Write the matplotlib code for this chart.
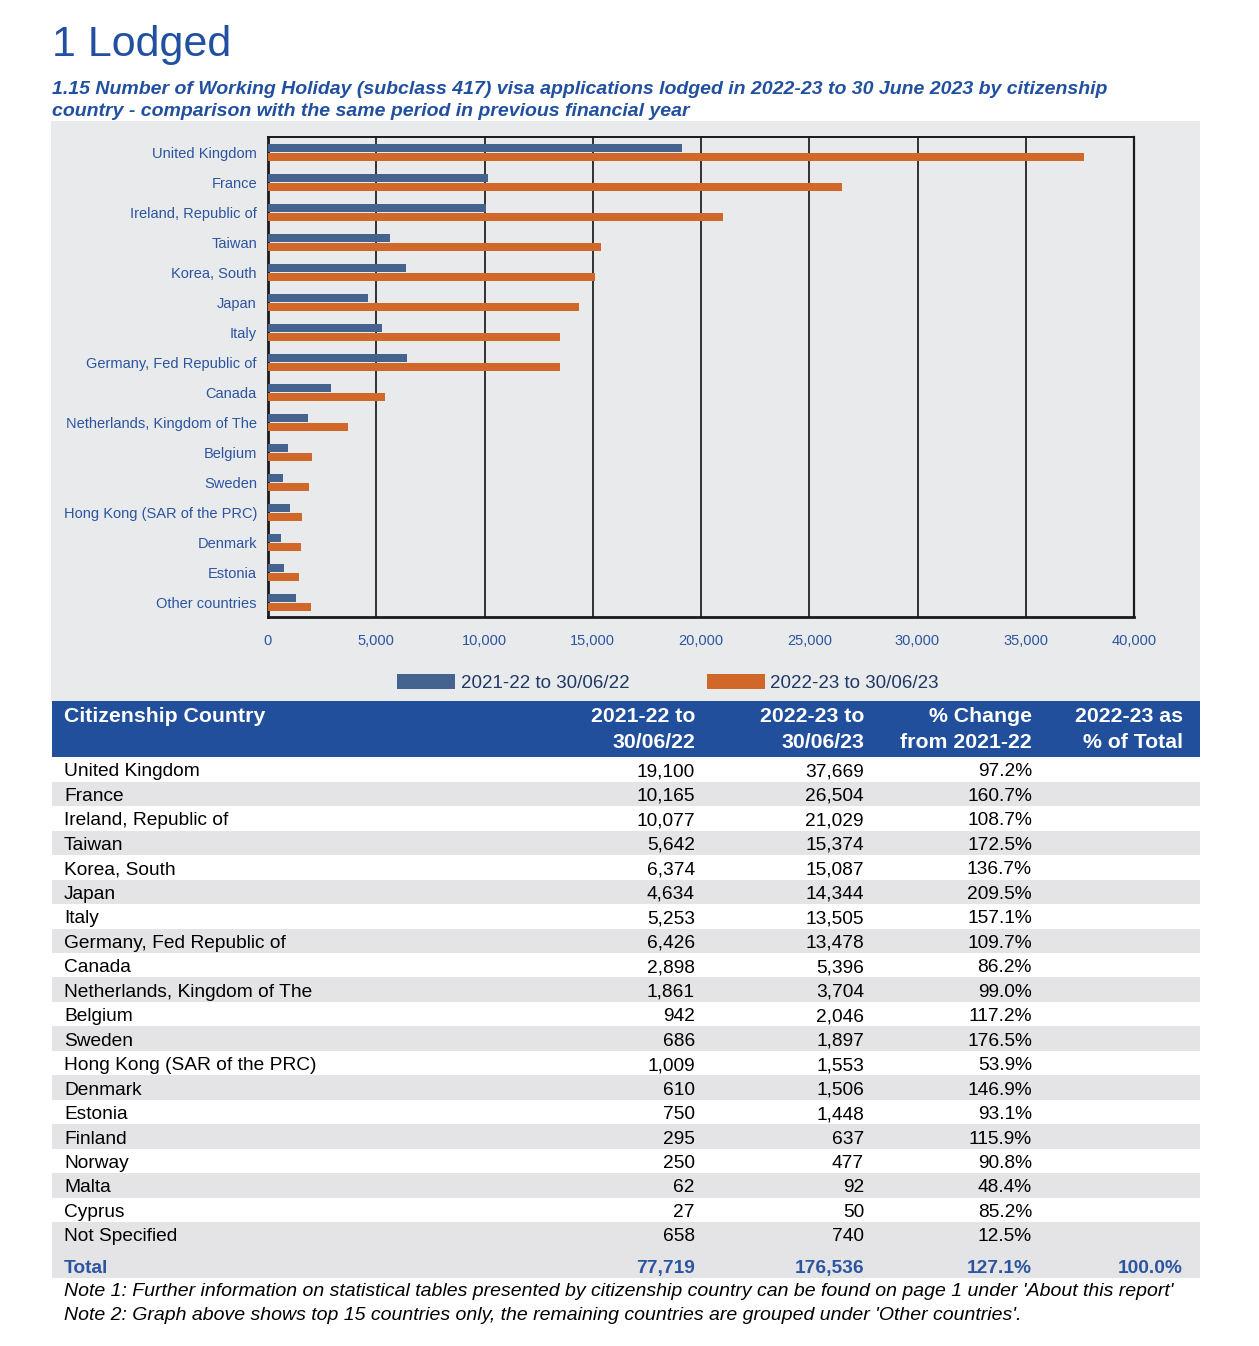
"""Working Holiday (subclass 417) visa applications lodged, by citizenship country."""

import matplotlib

matplotlib.use("Agg")
import matplotlib.pyplot as plt
from matplotlib.patches import Patch, Rectangle

plt.rcParams["font.family"] = ["Liberation Sans", "DejaVu Sans"]

W, H = 1259, 1346

# --- chart data (top 15 + other) ---
chart_countries = [
    "United Kingdom", "France", "Ireland, Republic of", "Taiwan", "Korea, South",
    "Japan", "Italy", "Germany, Fed Republic of", "Canada",
    "Netherlands, Kingdom of The", "Belgium", "Sweden", "Hong Kong (SAR of the PRC)",
    "Denmark", "Estonia", "Other countries",
]
chart_prev = [19100, 10165, 10077, 5642, 6374, 4634, 5253, 6426, 2898, 1861,
              942, 686, 1009, 610, 750, 1292]
chart_curr = [37669, 26504, 21029, 15374, 15087, 14344, 13505, 13478, 5396, 3704,
              2046, 1897, 1553, 1506, 1448, 1996]
series_labels = ["2021-22 to 30/06/22", "2022-23 to 30/06/23"]
x_ticks = [0, 5000, 10000, 15000, 20000, 25000, 30000, 35000, 40000]

# --- table data ---
table_countries = [
    "United Kingdom", "France", "Ireland, Republic of", "Taiwan", "Korea, South",
    "Japan", "Italy", "Germany, Fed Republic of", "Canada",
    "Netherlands, Kingdom of The", "Belgium", "Sweden", "Hong Kong (SAR of the PRC)",
    "Denmark", "Estonia", "Finland", "Norway", "Malta", "Cyprus", "Not Specified",
]
table_prev = [19100, 10165, 10077, 5642, 6374, 4634, 5253, 6426, 2898, 1861,
              942, 686, 1009, 610, 750, 295, 250, 62, 27, 658]
table_curr = [37669, 26504, 21029, 15374, 15087, 14344, 13505, 13478, 5396, 3704,
              2046, 1897, 1553, 1506, 1448, 637, 477, 92, 50, 740]
table_change = [97.2, 160.7, 108.7, 172.5, 136.7, 209.5, 157.1, 109.7, 86.2, 99.0,
                117.2, 176.5, 53.9, 146.9, 93.1, 115.9, 90.8, 48.4, 85.2, 12.5]
total_prev = 77719
total_curr = 176536
total_change = 127.1
total_share = 100.0
header_cols = ["2021-22 to\n30/06/22", "2022-23 to\n30/06/23",
               "% Change\nfrom 2021-22", "2022-23 as\n% of Total"]

BLUE_BAR = "#44648f"
ORANGE_BAR = "#d2672a"
TITLE_BLUE = "#2150a0"
TEXT_BLUE = "#2b55a0"
HEADER_BG = "#214f9b"
PANEL = "#e9eaec"
ROW_GRAY = "#e4e4e6"

fig = plt.figure(figsize=(W / 100, H / 100), dpi=100)
fig.patch.set_facecolor("white")

# background axes in pixel coordinates
bg = fig.add_axes([0, 0, 1, 1], zorder=0)
bg.set_xlim(0, W)
bg.set_ylim(H, 0)
bg.axis("off")

bg.text(52, 56, "1 Lodged", fontsize=31, color=TITLE_BLUE, va="baseline", ha="left")
bg.text(52, 94, "1.15 Number of Working Holiday (subclass 417) visa applications lodged in "
        "2022-23 to 30 June 2023 by citizenship", fontsize=14, fontweight="bold",
        fontstyle="italic", color=TITLE_BLUE, va="baseline")
bg.text(52, 116, "country - comparison with the same period in previous financial year",
        fontsize=14, fontweight="bold", fontstyle="italic", color=TITLE_BLUE, va="baseline")

bg.add_patch(Rectangle((51, 121), 1149, 580, facecolor=PANEL, edgecolor="none"))

# --- bar chart ---
ax = fig.add_axes([268 / W, 1 - 617 / H, (1134 - 268) / W, (617 - 137) / H], zorder=2)
ax.set_facecolor(PANEL)
ypos = list(range(len(chart_countries)))
ax.barh([y - 0.15 for y in ypos], chart_prev, height=0.27, color=BLUE_BAR, zorder=3)
ax.barh([y + 0.15 for y in ypos], chart_curr, height=0.27, color=ORANGE_BAR, zorder=3)
ax.set_ylim(15.48, -0.52)
ax.set_xlim(0, 40000)
ax.set_xticks(x_ticks)
ax.set_xticklabels([f"{v:,}" for v in x_ticks])
ax.set_yticks(ypos)
ax.set_yticklabels(chart_countries)
ax.tick_params(axis="both", length=0, labelsize=10.5, labelcolor=TEXT_BLUE)
ax.tick_params(axis="x", pad=12)
ax.tick_params(axis="y", pad=8)
ax.grid(axis="x", color="black", linewidth=1.1)
ax.set_axisbelow(True)
for side, lw in [("left", 2.0), ("bottom", 2.0), ("top", 1.4), ("right", 1.6)]:
    ax.spines[side].set_linewidth(lw)
    ax.spines[side].set_color("#1a1a1a")

handles = [Patch(facecolor=BLUE_BAR, label=series_labels[0]),
           Patch(facecolor=ORANGE_BAR, label=series_labels[1])]
ax.legend(handles=handles, loc="center", bbox_to_anchor=(668 / W, 1 - 683 / H),
          bbox_transform=fig.transFigure, ncol=2, frameon=False, fontsize=13.5,
          handlelength=3.1, handleheight=0.9, handletextpad=0.3, columnspacing=4.1,
          labelcolor="#1f3864")

# --- table ---
col_right = [695, 864, 1032, 1183]
bg.add_patch(Rectangle((52, 701), 1148, 56, facecolor=HEADER_BG, edgecolor="none"))
hdr = dict(fontsize=15.3, fontweight="bold", color="white", va="baseline")
bg.text(64, 722, "Citizenship Country", ha="left", **hdr)
for x, lab in zip(col_right, header_cols):
    top, bottom = lab.split("\n")
    bg.text(x, 722, top, ha="right", **hdr)
    bg.text(x, 748, bottom, ha="right", **hdr)

row_h = 24.47
y0 = 769.5
base = 7.0  # baseline offset from row centre
for i, name in enumerate(table_countries):
    yc = y0 + i * row_h
    if i % 2 == 1:
        bg.add_patch(Rectangle((52, yc - row_h / 2), 1148, row_h, facecolor=ROW_GRAY,
                               edgecolor="none"))
    yb = yc + base
    bg.text(64, yb, name, fontsize=13.8, va="baseline", ha="left")
    bg.text(col_right[0], yb, f"{table_prev[i]:,}", fontsize=13.8, va="baseline", ha="right")
    bg.text(col_right[1], yb, f"{table_curr[i]:,}", fontsize=13.8, va="baseline", ha="right")
    bg.text(col_right[2], yb, f"{table_change[i]:.1f}%", fontsize=13.8, va="baseline",
            ha="right")

ty_top = y0 + 19.5 * row_h
bg.add_patch(Rectangle((52, ty_top), 1148, 1278 - ty_top, facecolor=ROW_GRAY, edgecolor="none"))
tyb = 1266 + base
total_vals = ["Total", f"{total_prev:,}", f"{total_curr:,}", f"{total_change:.1f}%",
              f"{total_share:.1f}%"]
tot = dict(fontsize=13.8, fontweight="bold", color=TEXT_BLUE, va="baseline")
bg.text(64, tyb, total_vals[0], ha="left", **tot)
for x, v in zip(col_right, total_vals[1:]):
    bg.text(x, tyb, v, ha="right", **tot)

bg.text(64, 1296, "Note 1: Further information on statistical tables presented by citizenship "
        "country can be found on page 1 under 'About this report'", fontsize=14,
        fontstyle="italic", va="baseline", ha="left")
bg.text(64, 1320, "Note 2: Graph above shows top 15 countries only, the remaining countries "
        "are grouped under 'Other countries'.", fontsize=14, fontstyle="italic",
        va="baseline", ha="left")

fig.savefig("out.png", dpi=100)
